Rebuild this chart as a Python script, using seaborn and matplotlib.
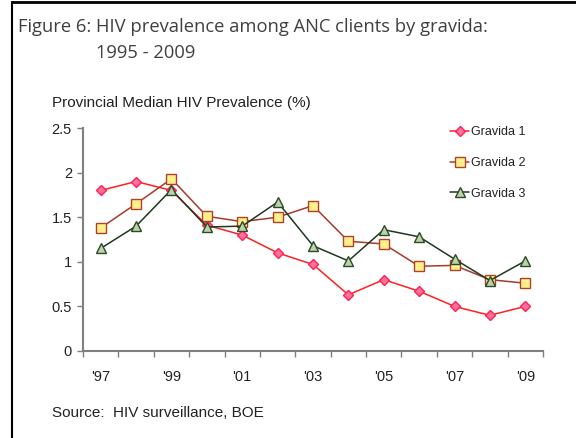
import numpy as np
import pandas as pd
import seaborn as sns
import matplotlib.pyplot as plt
from matplotlib.lines import Line2D

# data
years = ["'97", "'98", "'99", "'00", "'01", "'02", "'03", "'04", "'05", "'06", "'07", "'08", "'09"]
gravida_1 = [1.80, 1.90, 1.80, 1.41, 1.30, 1.10, 0.97, 0.63, 0.80, 0.67, 0.50, 0.40, 0.50]
gravida_2 = [1.38, 1.65, 1.93, 1.51, 1.45, 1.50, 1.63, 1.23, 1.20, 0.95, 0.96, 0.80, 0.76]
gravida_3 = [1.15, 1.40, 1.81, 1.39, 1.40, 1.67, 1.18, 1.01, 1.36, 1.28, 1.03, 0.79, 1.01]
series_names = ['Gravida 1', 'Gravida 2', 'Gravida 3']
y_ticks = [0, 0.5, 1, 1.5, 2, 2.5]
y_tick_labels = ['0', '0.5', '1', '1.5', '2', '2.5']

sns.set_style('white')
plt.rcParams['font.family'] = ['Liberation Sans', 'DejaVu Sans']

fig = plt.figure(figsize=(5.76, 4.38), dpi=100)
ax = fig.add_axes([83 / 576, 1 - 351 / 438, (543 - 83) / 576, (351 - 128) / 438])

pos = np.arange(len(years))
styles = [
    dict(color='#ff2020', marker='D', markersize=5.5, markerfacecolor='#ff70a0', markeredgecolor='#ff2050'),
    dict(color='#a83a2a', marker='s', markersize=7.5, markerfacecolor='#fff08c', markeredgecolor='#b04028'),
    dict(color='#1e3a1e', marker='^', markersize=7.5, markerfacecolor='#bcd3a8', markeredgecolor='#2a4a2a'),
]
for name, vals, st in zip(series_names, [gravida_1, gravida_2, gravida_3], styles):
    df = pd.DataFrame({'x': pos, 'y': vals})
    sns.lineplot(data=df, x='x', y='y', ax=ax, linewidth=1.1, markeredgewidth=1.0,
                 label=name, **st)

ax.set_xlim(-0.5, len(years) - 0.5)
ax.set_ylim(0, 2.5)
ax.set_xlabel('')
ax.set_ylabel('')

# ticks between categories, labels every other year
ax.set_xticks(np.arange(-0.5, len(years)))
ax.set_xticklabels([])
ax.set_xticks(pos[::2], minor=True)
ax.set_xticklabels(years[::2], minor=True)
ax.tick_params(axis='x', which='major', direction='out', length=4, width=1, color='#808080', bottom=True)
ax.tick_params(axis='x', which='minor', length=0, pad=14, labelsize=10.5, labelcolor='#222222')
ax.set_yticks(y_ticks)
ax.set_yticklabels(y_tick_labels)
ax.tick_params(axis='y', direction='out', length=4, width=1, color='#808080', left=True,
               labelsize=10.5, labelcolor='#222222', pad=4)

for s in ['top', 'right']:
    ax.spines[s].set_visible(False)
for s in ['left', 'bottom']:
    ax.spines[s].set_color('#808080')
    ax.spines[s].set_linewidth(1.5)

leg = ax.legend(loc='upper left', bbox_to_anchor=(444 / 576, 1 - 120 / 438),
                bbox_transform=fig.transFigure, frameon=False, fontsize=9,
                handlelength=1.5, handletextpad=0.15, labelspacing=1.5, borderpad=0)
for t in leg.get_texts():
    t.set_color('#222222')

fig.text(52 / 576, 1 - 103 / 438, 'Provincial Median HIV Prevalence (%)', fontsize=11,
         color='#222222', va='center', ha='left')
fig.text(52 / 576, 1 - 413 / 438, 'Source:  HIV surveillance, BOE', fontsize=11,
         color='#222222', va='center', ha='left')

title_font = ['Open Sans', 'DejaVu Sans']
fig.text(18 / 576, 1 - 27 / 438, 'Figure 6: HIV prevalence among ANC clients by gravida:',
         fontsize=13.2, color='#404040', va='center', ha='left', family=title_font)
fig.text(96 / 576, 1 - 53 / 438, '1995 - 2009', fontsize=13.2, color='#404040',
         va='center', ha='left', family=title_font)

# frame around the figure
fig.add_artist(Line2D([12 / 576, 1], [1 - 2 / 438, 1 - 2 / 438], transform=fig.transFigure,
                      color='black', linewidth=2))
fig.add_artist(Line2D([12 / 576, 12 / 576], [0, 1 - 2 / 438], transform=fig.transFigure,
                      color='black', linewidth=1.5))

fig.savefig('out.png', dpi=100)
